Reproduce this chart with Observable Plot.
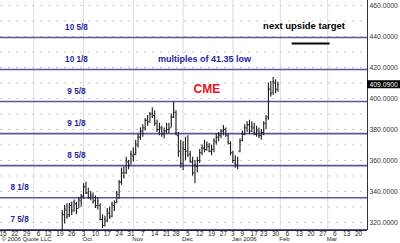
<!DOCTYPE html>
<html><head><meta charset="utf-8">
<script src="https://cdn.jsdelivr.net/npm/d3@7"></script>
<script src="https://cdn.jsdelivr.net/npm/@observablehq/plot@0.6"></script>
<style>html,body{margin:0;padding:0;background:#fff;} svg{display:block}</style>
</head><body><div id="chart"></div>
<script>
// ---- data ----
const dates = ["2005-09-20","2005-09-21","2005-09-22","2005-09-23","2005-09-26","2005-09-27","2005-09-28","2005-09-29","2005-09-30",
"2005-10-03","2005-10-04","2005-10-05","2005-10-06","2005-10-07","2005-10-10","2005-10-11","2005-10-12","2005-10-13","2005-10-14",
"2005-10-17","2005-10-18","2005-10-19","2005-10-20","2005-10-21","2005-10-24","2005-10-25","2005-10-26","2005-10-27","2005-10-28","2005-10-31",
"2005-11-01","2005-11-02","2005-11-03","2005-11-04","2005-11-07","2005-11-08","2005-11-09","2005-11-10","2005-11-11","2005-11-14","2005-11-15",
"2005-11-16","2005-11-17","2005-11-18","2005-11-21","2005-11-22","2005-11-23","2005-11-25","2005-11-28","2005-11-29","2005-11-30",
"2005-12-01","2005-12-02","2005-12-05","2005-12-06","2005-12-07","2005-12-08","2005-12-09","2005-12-12","2005-12-13","2005-12-14","2005-12-15",
"2005-12-16","2005-12-19","2005-12-20","2005-12-21","2005-12-22","2005-12-23","2005-12-27","2005-12-28","2005-12-29","2005-12-30",
"2006-01-03","2006-01-04","2006-01-05","2006-01-06","2006-01-09","2006-01-10","2006-01-11","2006-01-12","2006-01-13","2006-01-17",
"2006-01-18","2006-01-19","2006-01-20","2006-01-23","2006-01-24","2006-01-25","2006-01-26","2006-01-27","2006-01-30","2006-01-31"];
const open  = [312,325,328,325,331,328,332,329,334, 337,343,339,336,337,334,331,331,322,318, 321,326,324,331,333,338,346,352,352,359,357,
363,364,370,375,379,381,386,385,390,389,384, 380,381,377,379,380,381,388,391,376,366, 358,367,366,364,359,352,356,360,365,368,367,
369,366,367,372,375,376,379,380,376,371, 365,360,357,366,373,377,381,383,379,381, 377,379,376,378,384,388,406,404,410,406];
const high  = [327.7,331,332,332.3,333,334.5,333,336,338, 345,346,342,340,339,337,336,332,325,324, 329,330,333,334,340,347,355,356,362,360,366,
368,373,377,381,383,387,389,391,394,392,386, 384,382,381,384,384,390,397.5,392,378,373, 372,375,376,366,362,360,362,367,370,373,372,
371,370,374,377,378,380,382.6,381,377,372, 366,363,362,374,379,383,385,386,385,384, 382,381,380,385,389,410,411,413.5,412,410.5];
const low   = [310,319,322,323.2,324.5,326.5,325,329,330, 335,338,335,334,332,329,328,321,316,317, 320,322,323,327,332,335,344,348,351,354,357,
359,363,368,373,375,379,382,384,387,382,378, 376,375,374,377,377,381,387,376,362,355, 353.5,360,362,358,350,345,352,358,363,365,366,
365,363,365,370,372,374,376,375,370,363, 358,355,354,365,372,376,378,377,378,376, 375,374,373,376,380,386,401,402,403,404];
const close = [326,329,324,330,327,333,327,335,337, 343,339,336,338,333,330,334,322,318,322, 327,323,332,328,339,346,352,350,360,356,364,
361,371,375,379,381,386,384,390,388,384,380, 382,377,379,383,380,388,392,378,365,358, 368,364,363,360,352,357,360,365,368,367,370,
366,368,373,375,377,379,381,377,372,365, 360,358,360,372,377,381,383,379,382,378, 380,376,378,384,387,406,403,411,405,409.09];
const lastPrice = 409.09;

const baseLow = 41.35;
const levelMultiples = [10.625, 10.125, 9.625, 9.125, 8.625, 8.125, 7.625];
const levelLabels = ["10 5/8","10 1/8","9 5/8","9 1/8","8 5/8","8 1/8","7 5/8"];

const yTicks = [320, 340, 360, 380, 400, 420, 440, 460];
const yGrid = [320, 330, 340, 350, 360, 370, 380, 390, 400, 410, 420, 430, 440, 450, 460];

const xTickDates = ["2005-08-15","2005-08-22","2005-08-29","2005-09-06","2005-09-12","2005-09-19","2005-09-26","2005-10-03","2005-10-10",
"2005-10-17","2005-10-24","2005-10-31","2005-11-07","2005-11-14","2005-11-21","2005-11-28","2005-12-05","2005-12-12","2005-12-19",
"2005-12-27","2006-01-03","2006-01-09","2006-01-17","2006-01-23","2006-01-30","2006-02-06","2006-02-13","2006-02-20","2006-02-27",
"2006-03-06","2006-03-13","2006-03-20"];
const monthStarts = ["2005-09-01","2005-10-03","2005-11-01","2005-12-01","2006-01-03","2006-02-01","2006-03-01"];
const monthLabels = ["","Oct","Nov","Dec","Jan 2006","Feb","Mar"];
const holidays = ["2005-09-05","2005-11-24","2005-12-26","2006-01-02","2006-01-16"];

const title = "CME";
const subtitle = "multiples of 41.35 low";
const note = "next upside target";
const copyright = "\u00a9 2006 Quote LLC";

// ---- trading-day calendar (x axis has no weekend gaps) ----
const parse = d3.utcParse("%Y-%m-%d");
const fmt = d3.utcFormat("%Y-%m-%d");
const hol = new Set(holidays);
const days = d3.utcDays(parse("2005-08-15"), parse("2006-03-25"))
  .filter(d => d.getUTCDay() % 6 !== 0 && !hol.has(fmt(d)));
const idx = new Map(days.map((d, i) => [fmt(d), i]));
const X = s => idx.get(s);

const rows = dates.map((d, i) => ({x: X(d), o: open[i], h: high[i], l: low[i], c: close[i]}));

const xDomain = [-1.05, 153.8];
const yDomain = [314.8, 463.2];
const font = "'Liberation Sans', Arial, Helvetica, sans-serif";
const blue = "#5656a8";
const labelBlue = "#2626a0";

const chart = Plot.plot({
  width: 400, height: 243,
  marginLeft: 0, marginRight: 33, marginTop: 0, marginBottom: 13,
  style: {fontFamily: font, background: "#fff", overflow: "visible"},
  x: {type: "linear", domain: xDomain, axis: null},
  y: {domain: yDomain, axis: null},
  marks: [
    // grids
    Plot.ruleY(yGrid, {stroke: "#c8c8c8", strokeDasharray: "2,6"}),
    Plot.ruleX(monthStarts.map(X), {stroke: "#dcdcdc"}),
    // level lines
    Plot.ruleY(levelMultiples, {y: m => m * baseLow, stroke: blue, strokeWidth: 1.6}),
    Plot.text(levelMultiples, {
      x: (m, i) => i < 5 ? X("2005-09-28") : X("2005-08-24"),
      y: m => m * baseLow, dy: -10,
      text: (m, i) => levelLabels[i],
      fill: labelBlue, fontWeight: "bold", fontSize: 8.2
    }),
    // OHLC bars
    Plot.ruleX(rows, {x: "x", y1: "l", y2: "h", stroke: "#1a1a1a", strokeWidth: 1.1, clip: true}),
    Plot.ruleY(rows, {y: "o", x1: d => d.x - 0.5, x2: "x", stroke: "#1a1a1a", strokeWidth: 1, clip: true}),
    Plot.ruleY(rows, {y: "c", x1: "x", x2: d => d.x + 0.5, stroke: "#1a1a1a", strokeWidth: 1, clip: true}),
    // frame
    Plot.ruleX([xDomain[1]], {stroke: "#333"}),
    Plot.ruleY([yDomain[0]], {stroke: "#222", strokeWidth: 1}),
    // right axis
    Plot.axisY({anchor: "right", ticks: yTicks, tickFormat: d => d.toFixed(4), tickSize: 0, tickPadding: 2,
      fontSize: 6.8, fill: "#333"}),
    // last price flag
    Plot.ruleY([lastPrice], {x1: xDomain[1], x2: xDomain[1] + 14, stroke: "#000", strokeWidth: 8, clip: false}),
    Plot.text([lastPrice], {x: xDomain[1], y: d => d, dx: 2, textAnchor: "start", fill: "#fff",
      text: d => d.toFixed(4), fontSize: 6.8}),
    // bottom axis labels
    Plot.text(xTickDates, {x: d => X(d), frameAnchor: "bottom", dy: 3, lineAnchor: "middle",
      text: d => String(parse(d).getUTCDate()), fontSize: 6.5, fill: "#222"}),
    Plot.text(monthStarts, {x: d => X(d), frameAnchor: "bottom", dy: 8.5, dx: -1, lineAnchor: "middle",
      textAnchor: "start", text: (d, i) => monthLabels[i], fontSize: 6, fill: "#222"}),
    Plot.text([copyright], {frameAnchor: "bottom-left", dx: 1, dy: 9, lineAnchor: "middle", textAnchor: "start",
      fontSize: 6, fill: "#222"}),
    // annotations
    Plot.text([subtitle], {x: X("2005-12-14"), y: 425.2, fill: labelBlue, fontWeight: "bold", fontSize: 9}),
    Plot.text([title], {x: X("2005-12-15"), y: 405.8, fill: "#e4141c", fontWeight: "bold", fontSize: 12}),
    Plot.text([note], {x: X("2006-02-15"), y: 446.5, fill: "#000", fontWeight: "bold", fontSize: 9.5}),
    Plot.ruleY([435.5], {x1: X("2006-02-08"), x2: X("2006-03-02"), stroke: "#000", strokeWidth: 2})
  ]
});
document.getElementById("chart").appendChild(chart);
</script>
</body></html>
